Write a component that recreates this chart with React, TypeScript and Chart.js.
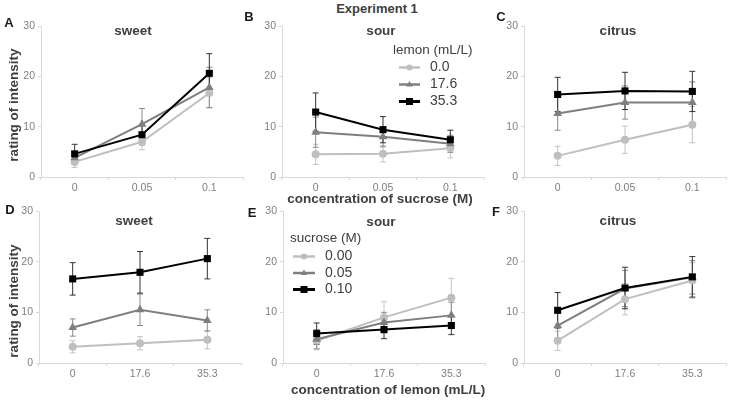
import React, { useEffect, useRef } from "react";
import { Chart, registerables } from "chart.js";
Chart.register(...registerables);

// ---------- data ----------
const sucroseTicks = ["0", "0.05", "0.1"];
const lemonTicks = ["0", "17.6", "35.3"];
const lemonLevels = ["0.0", "17.6", "35.3"];
const sucroseLevels = ["0.00", "0.05", "0.10"];
const yTicks = [0, 10, 20, 30];

// A: sweet vs sucrose (series = lemon level)
const sweetA_l00 = [3.0, 7.0, 16.7];
const sweetA_l00Err = [1.1, 1.6, 3.0];
const sweetA_l176 = [3.8, 10.5, 17.8];
const sweetA_l176Err = [1.2, 3.1, 4.0];
const sweetA_l353 = [4.6, 8.4, 20.6];
const sweetA_l353Err = [1.9, 2.0, 3.9];

// B: sour vs sucrose
const sourB_l00 = [4.5, 4.6, 5.7];
const sourB_l00Err = [2.0, 1.6, 1.9];
const sourB_l176 = [8.9, 8.0, 6.6];
const sourB_l176Err = [3.0, 2.0, 1.7];
const sourB_l353 = [12.9, 9.4, 7.4];
const sourB_l353Err = [3.8, 2.6, 1.9];

// C: citrus vs sucrose
const citrusC_l00 = [4.2, 7.4, 10.4];
const citrusC_l00Err = [1.9, 2.7, 3.6];
const citrusC_l176 = [12.6, 14.8, 14.8];
const citrusC_l176Err = [3.3, 3.3, 4.1];
const citrusC_l353 = [16.4, 17.1, 17.0];
const citrusC_l353Err = [3.4, 3.7, 4.0];

// D: sweet vs lemon (series = sucrose level)
const sweetD_s000 = [3.2, 3.9, 4.6];
const sweetD_s000Err = [1.2, 1.3, 1.8];
const sweetD_s005 = [7.0, 10.5, 8.4];
const sweetD_s005Err = [1.7, 3.1, 2.1];
const sweetD_s010 = [16.6, 17.9, 20.6];
const sweetD_s010Err = [3.2, 4.1, 4.0];

// E: sour vs lemon
const sourE_s000 = [4.4, 9.0, 12.9];
const sourE_s000Err = [1.8, 3.1, 3.8];
const sourE_s005 = [4.7, 8.0, 9.4];
const sourE_s005Err = [1.9, 2.0, 2.6];
const sourE_s010 = [5.8, 6.6, 7.4];
const sourE_s010Err = [2.1, 1.8, 1.8];

// F: citrus vs lemon
const citrusF_s000 = [4.4, 12.6, 16.3];
const citrusF_s000Err = [1.9, 3.1, 3.5];
const citrusF_s005 = [7.4, 14.7, 16.9];
const citrusF_s005Err = [2.5, 3.6, 3.3];
const citrusF_s010 = [10.4, 14.8, 17.0];
const citrusF_s010Err = [3.5, 4.1, 4.0];

// ---------- styles ----------
const FONT = "'Liberation Sans', Arial, sans-serif";
const lineColors = ["#bfbfbf", "#7f7f7f", "#000000"];
const errColors = ["#c4c4c4", "#8a8a8a", "#333333"];
const pointStyles = ["circle", "triangle", "rect"];
const pointRadii = [4, 5, 5];
const AXIS = "#d9d9d9";

const YW = 30; // y axis width
const XH = 22; // x axis height
const PT = 10; // top padding
const PR = 4; // right padding
const CW = 203; // chart area width

type Series = { label: string; values: number[]; errors: number[] };
type LegendSpec = { title: string; titleX: number; titleY: number; lineX0: number; lineX1: number; labelX: number; rowsY: number[] };

const errorBarPlugin = {
  id: "errorBars",
  beforeDatasetsDraw(chart: any) {
    const ctx = chart.ctx;
    const y = chart.scales.y;
    chart.data.datasets.forEach((ds: any, di: number) => {
      const meta = chart.getDatasetMeta(di);
      ds.errors.forEach((e: number, i: number) => {
        const pt = meta.data[i];
        const v = ds.data[i];
        const yT = y.getPixelForValue(v + e);
        const yB = y.getPixelForValue(v - e);
        ctx.save();
        ctx.strokeStyle = errColors[di];
        ctx.lineWidth = 1;
        ctx.beginPath();
        ctx.moveTo(pt.x, yT);
        ctx.lineTo(pt.x, yB);
        ctx.moveTo(pt.x - 3, yT);
        ctx.lineTo(pt.x + 3, yT);
        ctx.moveTo(pt.x - 3, yB);
        ctx.lineTo(pt.x + 3, yB);
        ctx.stroke();
        ctx.restore();
      });
    });
  },
};

function drawMarker(ctx: CanvasRenderingContext2D, style: string, x: number, y: number, r: number, color: string) {
  ctx.fillStyle = color;
  ctx.beginPath();
  if (style === "circle") {
    ctx.arc(x, y, r, 0, Math.PI * 2);
  } else if (style === "triangle") {
    ctx.moveTo(x, y - r);
    ctx.lineTo(x + r * 0.95, y + r * 0.6);
    ctx.lineTo(x - r * 0.95, y + r * 0.6);
    ctx.closePath();
  } else {
    ctx.rect(x - r, y - r, 2 * r, 2 * r);
  }
  ctx.fill();
}

function Panel(props: { left: number; top: number; height: number; xLabels: string[]; series: Series[]; legend?: LegendSpec }) {
  const ref = useRef<HTMLCanvasElement>(null);
  const { left, top, height, xLabels, series, legend } = props;
  const cLeft = left - YW;
  const cTop = top - PT;
  const cW = CW + YW + PR;
  const cH = height + PT + XH;

  useEffect(() => {
    if (!ref.current) return;
    const legendPlugin = {
      id: "customLegend",
      afterDraw(chart: any) {
        if (!legend) return;
        const ctx = chart.ctx;
        ctx.save();
        ctx.fillStyle = "#404040";
        ctx.font = `13.5px ${FONT}`;
        ctx.textBaseline = "middle";
        ctx.textAlign = "left";
        ctx.fillText(legend.title, legend.titleX - cLeft, legend.titleY - cTop);
        series.forEach((s, i) => {
          const yy = legend.rowsY[i] - cTop;
          ctx.strokeStyle = lineColors[i];
          ctx.lineWidth = i === 2 ? 3 : 2.5;
          ctx.beginPath();
          ctx.moveTo(legend.lineX0 - cLeft, yy);
          ctx.lineTo(legend.lineX1 - cLeft, yy);
          ctx.stroke();
          const mx = (legend.lineX0 + legend.lineX1) / 2 - cLeft;
          drawMarker(ctx, pointStyles[i], mx, yy, i === 0 ? 3 : 3.5, lineColors[i]);
          ctx.fillStyle = "#404040";
          ctx.font = `14px ${FONT}`;
          ctx.fillText(s.label, legend.labelX - cLeft, yy);
        });
        ctx.restore();
      },
    };
    const tickFont = { family: FONT, size: 10.5 };
    const chart = new Chart(ref.current, {
      type: "line",
      data: {
        labels: xLabels,
        datasets: series.map((s, i) => ({
          label: s.label,
          data: s.values,
          errors: s.errors,
          borderColor: lineColors[i],
          backgroundColor: lineColors[i],
          pointBackgroundColor: lineColors[i],
          pointBorderColor: lineColors[i],
          pointBorderWidth: 0,
          pointStyle: pointStyles[i],
          pointRadius: pointRadii[i],
          borderWidth: 2,
          tension: 0,
          order: 2 - i,
        })) as any,
      },
      options: {
        animation: false,
        responsive: false,
        maintainAspectRatio: false,
        layout: { padding: { left: 0, right: PR, top: PT, bottom: 0 } },
        plugins: { legend: { display: false }, tooltip: { enabled: false }, title: { display: false } },
        scales: {
          x: {
            type: "category",
            offset: true,
            grid: { offset: true, drawOnChartArea: false, drawTicks: true, tickLength: 3, color: AXIS },
            border: { display: true, color: AXIS },
            ticks: { color: "#7f7f7f", font: tickFont, padding: 2, maxRotation: 0, autoSkip: false },
            afterFit: (s: any) => {
              s.height = XH;
            },
          },
          y: {
            min: 0,
            max: 30,
            grid: { drawOnChartArea: false, drawTicks: true, tickLength: 3, color: AXIS },
            border: { display: true, color: AXIS },
            ticks: { color: "#7f7f7f", font: tickFont, padding: 3 },
            afterBuildTicks: (s: any) => {
              s.ticks = yTicks.map((v) => ({ value: v }));
            },
            afterFit: (s: any) => {
              s.width = YW;
            },
          },
        },
      } as any,
      plugins: [errorBarPlugin, legendPlugin],
    });
    return () => chart.destroy();
  }, []);

  return (
    <canvas
      ref={ref}
      width={cW}
      height={cH}
      style={{ position: "absolute", left: cLeft, top: cTop, width: cW, height: cH }}
    />
  );
}

function Label(props: { x: number; y: number; text: string; size: number; bold?: boolean; color?: string; rotate?: boolean }) {
  const { x, y, text, size, bold, color, rotate } = props;
  return (
    <div
      style={{
        position: "absolute",
        left: x,
        top: y,
        transform: `translate(-50%, -50%)${rotate ? " rotate(-90deg)" : ""}`,
        fontFamily: FONT,
        fontSize: size,
        fontWeight: bold ? "bold" : "normal",
        color: color || "#404040",
        whiteSpace: "nowrap",
        lineHeight: 1,
      }}
    >
      {text}
    </div>
  );
}

const mk = (labels: string[], vals: number[][], errs: number[][]): Series[] =>
  labels.map((l, i) => ({ label: l, values: vals[i], errors: errs[i] }));

export default function App() {
  const topLegend: LegendSpec = {
    title: "lemon (mL/L)",
    titleX: 393,
    titleY: 50,
    lineX0: 399,
    lineX1: 420,
    labelX: 430,
    rowsY: [67.5, 84.5, 101.5],
  };
  const botLegend: LegendSpec = {
    title: "sucrose (M)",
    titleX: 290,
    titleY: 238,
    lineX0: 293,
    lineX1: 315,
    labelX: 325,
    rowsY: [256.5, 273, 289.5],
  };
  return (
    <div style={{ position: "fixed", left: 0, top: 0, width: 729, height: 400, overflow: "hidden", background: "#fff" }}>
      <Panel left={41} top={26} height={151} xLabels={sucroseTicks}
        series={mk(lemonLevels, [sweetA_l00, sweetA_l176, sweetA_l353], [sweetA_l00Err, sweetA_l176Err, sweetA_l353Err])} />
      <Panel left={282} top={26} height={151} xLabels={sucroseTicks}
        series={mk(lemonLevels, [sourB_l00, sourB_l176, sourB_l353], [sourB_l00Err, sourB_l176Err, sourB_l353Err])}
        legend={topLegend} />
      <Panel left={524} top={26} height={151} xLabels={sucroseTicks}
        series={mk(lemonLevels, [citrusC_l00, citrusC_l176, citrusC_l353], [citrusC_l00Err, citrusC_l176Err, citrusC_l353Err])} />
      <Panel left={39} top={211} height={152} xLabels={lemonTicks}
        series={mk(sucroseLevels, [sweetD_s000, sweetD_s005, sweetD_s010], [sweetD_s000Err, sweetD_s005Err, sweetD_s010Err])} />
      <Panel left={283} top={211} height={152} xLabels={lemonTicks}
        series={mk(sucroseLevels, [sourE_s000, sourE_s005, sourE_s010], [sourE_s000Err, sourE_s005Err, sourE_s010Err])}
        legend={botLegend} />
      <Panel left={524} top={211} height={152} xLabels={lemonTicks}
        series={mk(sucroseLevels, [citrusF_s000, citrusF_s005, citrusF_s010], [citrusF_s000Err, citrusF_s005Err, citrusF_s010Err])} />

      <Label x={377} y={8} text="Experiment 1" size={13} bold />
      <Label x={9} y={22} text="A" size={13} bold color="#1a1a1a" />
      <Label x={249} y={16} text="B" size={13} bold color="#1a1a1a" />
      <Label x={501} y={16} text="C" size={13} bold color="#1a1a1a" />
      <Label x={10} y={209} text="D" size={13} bold color="#1a1a1a" />
      <Label x={252} y={212} text="E" size={13} bold color="#1a1a1a" />
      <Label x={496} y={211} text="F" size={13} bold color="#1a1a1a" />

      <Label x={133} y={31} text="sweet" size={13.5} bold />
      <Label x={381} y={31} text="sour" size={13.5} bold />
      <Label x={618} y={31} text="citrus" size={13.5} bold />
      <Label x={134} y={221} text="sweet" size={13.5} bold />
      <Label x={381} y={222} text="sour" size={13.5} bold />
      <Label x={618} y={221} text="citrus" size={13.5} bold />

      <Label x={14} y={105} text="rating of intensity" size={13.5} bold rotate />
      <Label x={14} y={301} text="rating of intensity" size={13.5} bold rotate />
      <Label x={380} y={199} text="concentration of sucrose (M)" size={13.5} bold />
      <Label x={388} y={390} text="concentration of lemon (mL/L)" size={13.5} bold />
    </div>
  );
}
